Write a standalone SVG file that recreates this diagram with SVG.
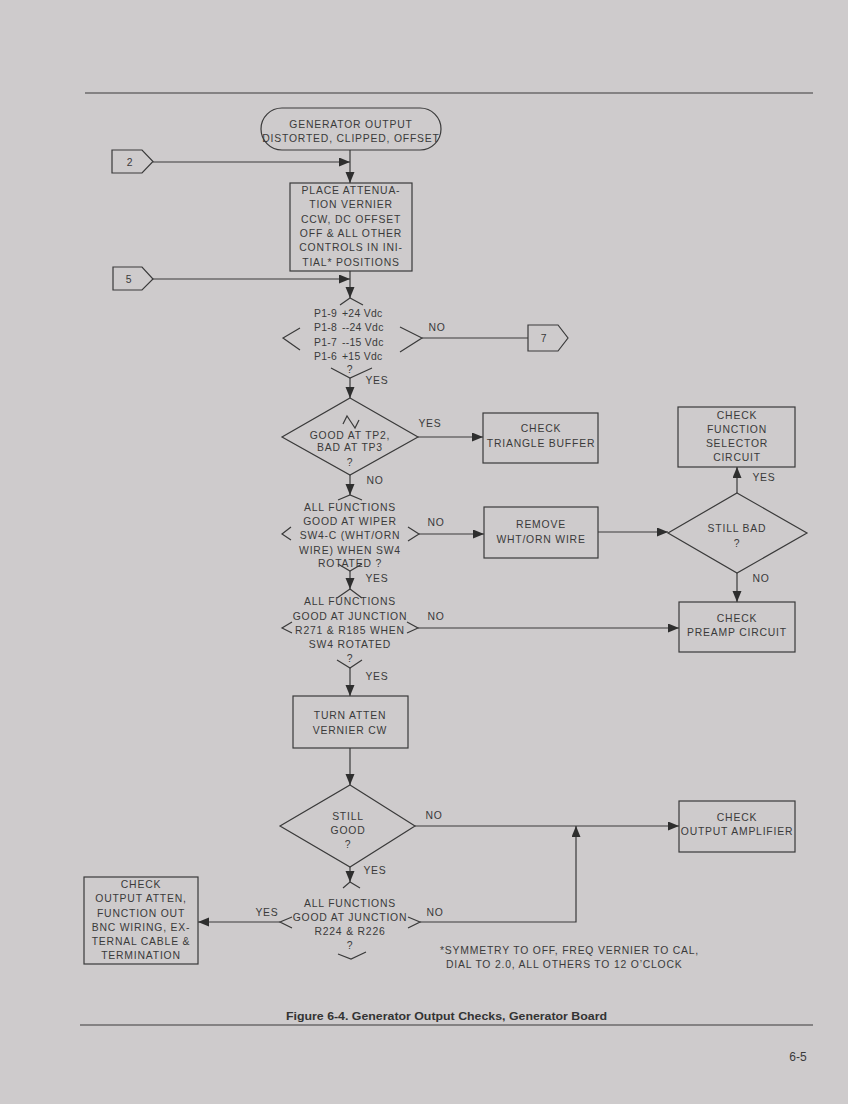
<svg xmlns="http://www.w3.org/2000/svg" width="848" height="1104" viewBox="0 0 848 1104">
<defs>
<marker id="ah" markerUnits="userSpaceOnUse" markerWidth="12" markerHeight="10" refX="11" refY="4.5" orient="auto">
<path d="M0,0 L11,4.5 L0,9 z" fill="#2e2e2e"/>
</marker>
<style>
.bg{fill:#cecbcc}
.s{fill:none;stroke:#3a3a3a;stroke-width:1.2}
.c{fill:none;stroke:#3a3a3a;stroke-width:1.2}
.t{font-family:"Liberation Sans",Arial,sans-serif;font-size:10.4px;fill:#3a3a3a;letter-spacing:0.8px;text-anchor:middle}
.l{text-anchor:start}
.v{letter-spacing:0.3px}
.cap{font-family:"Liberation Sans Narrow","Liberation Sans",Arial,sans-serif;font-size:11px;font-weight:bold;fill:#333;text-anchor:start}
</style>
</defs>
<rect class="bg" x="0" y="0" width="848" height="1104"/>
<line x1="85" y1="93" x2="813" y2="93" stroke="#3a3a3a" stroke-width="1.2"/>
<line x1="80" y1="1025" x2="813" y2="1025" stroke="#3a3a3a" stroke-width="1.2"/>

<g id="connectors">
<line class="c" x1="350" y1="150" x2="350" y2="183" marker-end="url(#ah)"/>
<line class="c" x1="153" y1="162" x2="350" y2="162" marker-end="url(#ah)"/>
<line class="c" x1="350" y1="271" x2="350" y2="298" marker-end="url(#ah)"/>
<line class="c" x1="153" y1="279" x2="350" y2="279" marker-end="url(#ah)"/>
<line class="c" x1="422" y1="338" x2="528" y2="338"/>
<line class="c" x1="350" y1="378" x2="350" y2="398" marker-end="url(#ah)"/>
<line class="c" x1="418" y1="437" x2="483" y2="437" marker-end="url(#ah)"/>
<line class="c" x1="350" y1="475" x2="350" y2="495" marker-end="url(#ah)"/>
<line class="c" x1="419" y1="534" x2="484" y2="534" marker-end="url(#ah)"/>
<line class="c" x1="598" y1="532" x2="668" y2="532" marker-end="url(#ah)"/>
<line class="c" x1="737" y1="493" x2="737" y2="467" marker-end="url(#ah)"/>
<line class="c" x1="737" y1="573" x2="737" y2="602" marker-end="url(#ah)"/>
<line class="c" x1="350" y1="571" x2="350" y2="589" marker-end="url(#ah)"/>
<line class="c" x1="418" y1="628" x2="679" y2="628" marker-end="url(#ah)"/>
<line class="c" x1="350" y1="668" x2="350" y2="696" marker-end="url(#ah)"/>
<line class="c" x1="350" y1="748" x2="350" y2="785" marker-end="url(#ah)"/>
<line class="c" x1="415" y1="826" x2="679" y2="826" marker-end="url(#ah)"/>
<line class="c" x1="350" y1="867" x2="350" y2="882" marker-end="url(#ah)"/>
<line class="c" x1="280" y1="922" x2="198" y2="922" marker-end="url(#ah)"/>
<polyline class="c" points="420,922 576,922 576,826" marker-end="url(#ah)"/>
<text class="t" x="437" y="331">NO</text>
<text class="t" x="377" y="384">YES</text>
<text class="t" x="430" y="427">YES</text>
<text class="t" x="375" y="484">NO</text>
<text class="t" x="436" y="526">NO</text>
<text class="t" x="377" y="582">YES</text>
<text class="t" x="764" y="481">YES</text>
<text class="t" x="761" y="582">NO</text>
<text class="t" x="436" y="620">NO</text>
<text class="t" x="377" y="680">YES</text>
<text class="t" x="434" y="819">NO</text>
<text class="t" x="375" y="874">YES</text>
<text class="t" x="267" y="916">YES</text>
<text class="t" x="435" y="916">NO</text>
</g>

<g id="start">
<rect class="s" x="261" y="108" width="180" height="42" rx="21" ry="21"/>
<text class="t" x="351" y="128">GENERATOR OUTPUT</text>
<text class="t" x="351" y="142">DISTORTED, CLIPPED, OFFSET</text>
</g>

<g id="conn2">
<polygon class="s" points="112,150 142,150 153,161.5 142,173 112,173"/>
<text class="t" x="130" y="166">2</text>
</g>

<g id="conn5">
<polygon class="s" points="113,267 142,267 153,279 142,290 113,290"/>
<text class="t" x="129" y="283">5</text>
</g>

<g id="place">
<rect class="s" x="290" y="183" width="122" height="88"/>
<text class="t" x="351" y="194">PLACE ATTENUA-</text>
<text class="t" x="351" y="208">TION VERNIER</text>
<text class="t" x="351" y="223">CCW, DC OFFSET</text>
<text class="t" x="351" y="237">OFF &amp; ALL OTHER</text>
<text class="t" x="351" y="251">CONTROLS IN INI-</text>
<text class="t" x="351" y="266">TIAL* POSITIONS</text>
</g>

<g id="dec-voltages">
<polyline class="s" points="340,305 350,298 363,305"/>
<polyline class="s" points="300,328 283,338 300,350"/>
<polyline class="s" points="400,327 422,338 400,352"/>
<polyline class="s" points="331,368 350,378 372,368"/>
<text class="t l v" x="314" y="317">P1-9</text><text class="t l v" x="342" y="317">+24 Vdc</text>
<text class="t l v" x="314" y="331">P1-8</text><text class="t l v" x="342" y="331">--24 Vdc</text>
<text class="t l v" x="314" y="346">P1-7</text><text class="t l v" x="342" y="346">--15 Vdc</text>
<text class="t l v" x="314" y="360">P1-6</text><text class="t l v" x="342" y="360">+15 Vdc</text>
<text class="t" x="350" y="373">?</text>
</g>

<g id="conn7">
<polygon class="s" points="528,325 558,325 568,338 558,351 528,351"/>
<text class="t" x="544" y="342">7</text>
</g>

<g id="dec-tp">
<polygon class="s" points="350,398 418,437 350,475 282,437"/>
<path class="s" d="M343,424 L347,416 L351,422 L355,428 L359,420" stroke-width="1"/>
<text class="t" x="350" y="439">GOOD AT TP2,</text>
<text class="t" x="350" y="451">BAD AT TP3</text>
<text class="t" x="350" y="466">?</text>
</g>

<g id="triangle-buffer">
<rect class="s" x="483" y="413" width="115" height="50"/>
<text class="t" x="541" y="432">CHECK</text>
<text class="t" x="541" y="447">TRIANGLE BUFFER</text>
</g>

<g id="dec-wiper">
<polyline class="s" points="338,500 350,495 362,500"/>
<polyline class="s" points="291,527 282,534 291,540"/>
<polyline class="s" points="408,527 419,534 408,541"/>
<polyline class="s" points="338,564 350,571 362,564"/>
<text class="t" x="350" y="511">ALL FUNCTIONS</text>
<text class="t" x="350" y="525">GOOD AT WIPER</text>
<text class="t" x="350" y="539">SW4-C (WHT/ORN</text>
<text class="t" x="350" y="554">WIRE) WHEN SW4</text>
<text class="t" x="350" y="567">ROTATED  ?</text>
</g>

<g id="remove">
<rect class="s" x="484" y="507" width="114" height="51"/>
<text class="t" x="541" y="528">REMOVE</text>
<text class="t" x="541" y="543">WHT/ORN WIRE</text>
</g>

<g id="still-bad">
<polygon class="s" points="737,493 807,533 737,573 668,533"/>
<text class="t" x="737" y="532">STILL BAD</text>
<text class="t" x="737" y="547">?</text>
</g>

<g id="func-selector">
<rect class="s" x="678" y="407" width="117" height="60"/>
<text class="t" x="737" y="419">CHECK</text>
<text class="t" x="737" y="433">FUNCTION</text>
<text class="t" x="737" y="447">SELECTOR</text>
<text class="t" x="737" y="461">CIRCUIT</text>
</g>

<g id="dec-junction1">
<polyline class="s" points="337,598 350,589 362,598"/>
<polyline class="s" points="292,622 282,628 292,633"/>
<polyline class="s" points="407,622 418,628 407,633"/>
<polyline class="s" points="337,660 350,668 362,660"/>
<text class="t" x="350" y="605">ALL FUNCTIONS</text>
<text class="t" x="350" y="620">GOOD AT JUNCTION</text>
<text class="t" x="350" y="634">R271 &amp; R185 WHEN</text>
<text class="t" x="350" y="648">SW4 ROTATED</text>
<text class="t" x="350" y="662">?</text>
</g>

<g id="preamp">
<rect class="s" x="679" y="602" width="116" height="50"/>
<text class="t" x="737" y="622">CHECK</text>
<text class="t" x="737" y="636">PREAMP CIRCUIT</text>
</g>

<g id="turn-atten">
<rect class="s" x="293" y="696" width="115" height="52"/>
<text class="t" x="350" y="719">TURN ATTEN</text>
<text class="t" x="350" y="734">VERNIER CW</text>
</g>

<g id="still-good">
<polygon class="s" points="350,785 415,826 350,867 280,826"/>
<text class="t" x="348" y="820">STILL</text>
<text class="t" x="348" y="834">GOOD</text>
<text class="t" x="348" y="848">?</text>
</g>

<g id="output-amp">
<rect class="s" x="679" y="801" width="116" height="51"/>
<text class="t" x="737" y="821">CHECK</text>
<text class="t" x="737" y="835">OUTPUT AMPLIFIER</text>
</g>

<g id="dec-junction2">
<polyline class="s" points="343,888 350,882 360,888"/>
<polyline class="s" points="292,917 280,922 292,928"/>
<polyline class="s" points="408,917 420,922 408,928"/>
<polyline class="s" points="338,954 351,959 366,952"/>
<text class="t" x="350" y="907">ALL FUNCTIONS</text>
<text class="t" x="350" y="921">GOOD AT JUNCTION</text>
<text class="t" x="350" y="935">R224 &amp; R226</text>
<text class="t" x="350" y="949">?</text>
</g>

<g id="output-atten">
<rect class="s" x="84" y="877" width="114" height="87"/>
<text class="t" x="141" y="888">CHECK</text>
<text class="t" x="141" y="902">OUTPUT ATTEN,</text>
<text class="t" x="141" y="917">FUNCTION OUT</text>
<text class="t" x="141" y="931">BNC WIRING, EX-</text>
<text class="t" x="141" y="945">TERNAL CABLE &amp;</text>
<text class="t" x="141" y="959">TERMINATION</text>
</g>

<g id="footnote">
<text class="t l" x="440" y="954">*SYMMETRY TO OFF, FREQ VERNIER TO CAL,</text>
<text class="t l" x="446" y="968">DIAL TO 2.0, ALL OTHERS TO 12 O’CLOCK</text>
</g>

<text class="cap" x="286" y="1020" textLength="321" lengthAdjust="spacingAndGlyphs">Figure 6-4.  Generator Output Checks, Generator Board</text>
<text class="t" x="798" y="1061" style="font-size:12px;letter-spacing:0">6-5</text>
</svg>
